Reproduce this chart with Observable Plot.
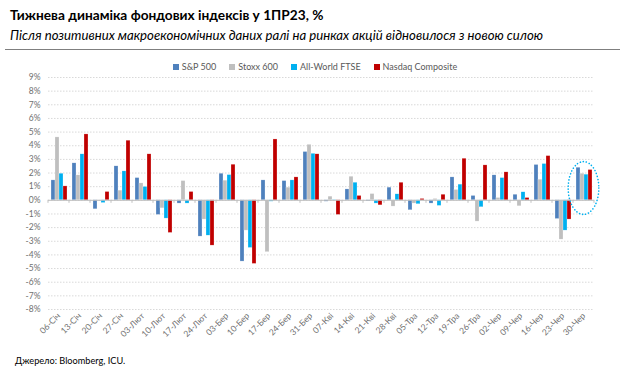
<!DOCTYPE html>
<html><head><meta charset="utf-8">
<script src="https://cdn.jsdelivr.net/npm/d3@7"></script>
<script src="https://cdn.jsdelivr.net/npm/@observablehq/plot@0.6"></script>
<style>
body{margin:0;width:624px;height:374px;position:relative;background:#fff;font-family:Lato,"Open Sans",sans-serif;overflow:hidden}
#title{position:absolute;left:10px;top:6px;font-weight:bold;font-size:13.7px;color:#000;white-space:nowrap}
#subtitle{position:absolute;left:10px;top:27px;font-style:italic;font-size:13.2px;color:#000;white-space:nowrap}
#hr{position:absolute;left:5px;width:615px;top:49px;height:0;border-top:1.5px solid #7f7f7f}
#legend{position:absolute;left:0;width:624px;top:61px;display:flex;justify-content:center;gap:13px;font-size:9px;color:#595959;padding-left:6px;box-sizing:border-box}
#legend span.sw{display:inline-block;width:6px;height:6px;margin-right:3px;vertical-align:0px}
#chart{position:absolute;left:0;top:70px}
#source{position:absolute;left:15px;top:355px;font-size:9.2px;color:#000;white-space:nowrap}
</style></head>
<body>
<div id="title">Тижнева динаміка фондових індексів у 1ПР23, %</div>
<div id="subtitle">Після позитивних макроекономічних даних ралі на ринках акцій відновилося з новою силою</div>
<div id="hr"></div>
<div id="legend"></div>
<div id="chart"></div>
<div id="source">Джерело: Bloomberg, ICU.</div>
<script>
const weeks = ["06-Січ","13-Січ","20-Січ","27-Січ","03-Лют","10-Лют","17-Лют","24-Лют","03-Бер","10-Бер","17-Бер","24-Бер","31-Бер","07-Кві","14-Кві","21-Кві","28-Кві","05-Тра","12-Тра","19-Тра","26-Тра","02-Чер","09-Чер","16-Чер","23-Чер","30-Чер"];
const seriesNames = ["S&P 500","Stoxx 600","All-World FTSE","Nasdaq Composite"];
const seriesColors = ["#4f81bd","#bfbfbf","#00b0f0","#c00000"];
const sp500   = [1.46, 2.71,-0.66, 2.49, 1.63,-1.07,-0.24,-2.66, 1.95,-4.49, 1.46, 1.41, 3.54,-0.10, 0.80,-0.07, 0.93,-0.73,-0.24, 1.68, 0.32, 1.83, 0.41, 2.59,-1.37, 2.39];
const stoxx   = [4.61, 1.83,-0.05, 0.71, 1.24,-0.59, 1.41,-1.41, 1.44,-2.22,-3.80, 0.93, 4.07, 0.27, 1.73, 0.46,-0.46,-0.24, 0.10, 0.76,-1.56, 0.17,-0.44, 1.51,-2.88, 1.95];
const ftse    = [1.95, 3.37,-0.20, 2.12, 0.98,-1.34,-0.24,-2.59, 1.85,-3.49,-0.10, 1.46, 3.41, 0.03, 1.29,-0.24, 0.44,-0.29,-0.41, 1.15,-0.51, 1.63, 0.59, 2.66,-2.22, 1.88];
const nasdaq  = [1.02, 4.83, 0.61, 4.37, 3.37,-2.39, 0.61,-3.32, 2.61,-4.66, 4.46, 1.68, 3.37,-1.07, 0.32,-0.37, 1.29, 0.10, 0.41, 3.05, 2.56, 2.05, 0.17, 3.24,-1.41, 2.22];
const yTicks = [-8,-7,-6,-5,-4,-3,-2,-1,0,1,2,3,4,5,6,7,8,9];
const highlightWeek = "30-Чер";
const highlightRange = [2.8, -1.07];

const allSeries = [sp500, stoxx, ftse, nasdaq];
const data = [];
weeks.forEach((w, i) => seriesNames.forEach((s, j) => data.push({week: w, series: s, value: allSeries[j][i]})));

const legend = document.getElementById("legend");
seriesNames.forEach((s, j) => {
  const d = document.createElement("div");
  d.innerHTML = `<span class="sw" style="background:${seriesColors[j]}"></span>${s.replace(/&/g,"&amp;")}`;
  legend.appendChild(d);
});

const plot = Plot.plot({
  width: 624,
  height: 280,
  marginLeft: 45,
  marginRight: 28,
  marginTop: 7,
  marginBottom: 41,
  style: {fontFamily: "Lato, 'Open Sans', sans-serif", fontSize: "8.5px", color: "#6f6f6f", background: "transparent"},
  facet: {data, x: "week"},
  fx: {domain: weeks, padding: 0, axis: "bottom", tickRotate: -45, tickSize: 0, tickPadding: 5, label: null},
  x: {domain: seriesNames, axis: null, paddingInner: 0, paddingOuter: 0.27},
  y: {domain: [-8, 9], ticks: yTicks, tickFormat: d => d + "%", tickSize: 0, tickPadding: 8, label: null},
  color: {domain: seriesNames, range: seriesColors},
  marks: [
    Plot.ruleY(yTicks, {stroke: "#d9d9d9", strokeWidth: 1, strokeDasharray: "1.5,1.5"}),
    Plot.barY(data, {x: "series", y: "value", fill: "series", stroke: "#ffffff", strokeWidth: 0.4, strokeOpacity: 0.6}),
    Plot.ruleY([0], {stroke: "#bfbfbf", strokeWidth: 1})
  ]
});
document.getElementById("chart").appendChild(plot);

try {
  const fx = plot.scale("fx"), y = plot.scale("y");
  const svg = d3.select(plot);
  // category boundary ticks on the zero line
  const y0 = y.apply(0);
  weeks.concat([null]).forEach((w, i) => {
    const xb = w === null ? fx.apply(weeks[weeks.length - 1]) + fx.bandwidth : fx.apply(w);
    svg.append("line").attr("x1", xb).attr("x2", xb).attr("y1", y0).attr("y2", y0 + 3)
      .attr("stroke", "#bfbfbf").attr("stroke-width", 1);
  });
  // dotted highlight ellipse around the last week
  const cx = fx.apply(highlightWeek) + fx.bandwidth / 2;
  const y1 = y.apply(highlightRange[0]), y2 = y.apply(highlightRange[1]);
  svg.append("ellipse")
    .attr("cx", cx).attr("cy", (y1 + y2) / 2)
    .attr("rx", fx.bandwidth * 0.73).attr("ry", Math.abs(y2 - y1) / 2)
    .attr("fill", "none").attr("stroke", "#00b0f0").attr("stroke-width", 1.6)
    .attr("stroke-dasharray", "0.1,3").attr("stroke-linecap", "round");
} catch (e) {}
</script>
</body></html>
